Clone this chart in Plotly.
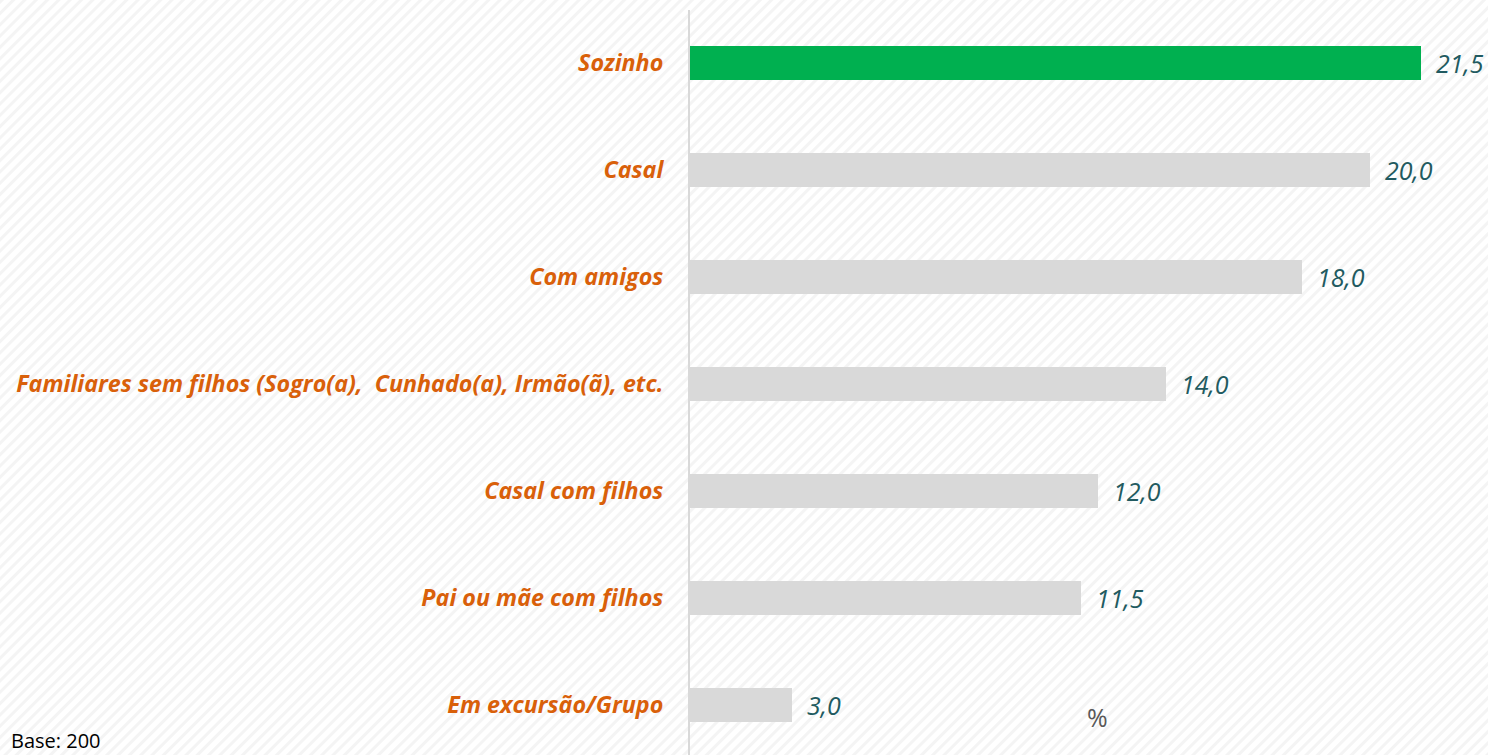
import base64
import plotly.graph_objects as go

categories = [
    "Sozinho",
    "Casal",
    "Com amigos",
    "Familiares sem filhos (Sogro(a),  Cunhado(a), Irmão(ã), etc.",
    "Casal com filhos",
    "Pai ou mãe com filhos",
    "Em excursão/Grupo",
]
values = [21.5, 20.0, 18.0, 14.0, 12.0, 11.5, 3.0]
value_labels = ["21,5", "20,0", "18,0", "14,0", "12,0", "11,5", "3,0"]
bar_colors = ["#00B050", "#D9D9D9", "#D9D9D9", "#D9D9D9", "#D9D9D9", "#D9D9D9", "#D9D9D9"]

W, H = 1488, 755
L, T = 690, 10
PW, PH = W - L, H - T
BOT = T + PH

fig = go.Figure()
fig.add_trace(go.Bar(
    y=categories, x=values, orientation="h",
    marker=dict(color=bar_colors, line=dict(width=0)),
    width=0.32, hoverinfo="skip",
))

for c, v, t in zip(categories, values, value_labels):
    fig.add_annotation(x=v, y=c, text=t, showarrow=False, xanchor="left",
                       xshift=13, yshift=0,
                       font=dict(family="Open Sans", size=25, color="#215A60", style="italic"))

# hatched background
svg = (
    f'<svg xmlns="http://www.w3.org/2000/svg" width="{W}" height="{H}" viewBox="0 0 {W} {H}">'
    '<defs><pattern id="p" width="8" height="8" patternUnits="userSpaceOnUse" patternTransform="rotate(45)">'
    '<rect width="8" height="8" fill="#ffffff"/><rect width="3" height="8" fill="#f4f4f4"/></pattern></defs>'
    f'<rect width="{W}" height="{H}" fill="url(#p)"/></svg>'
)
uri = "data:image/svg+xml;base64," + base64.b64encode(svg.encode()).decode()
fig.add_layout_image(dict(source=uri, xref="paper", yref="paper",
                          x=-L / PW, y=BOT / PH, sizex=W / PW, sizey=H / PH,
                          xanchor="left", yanchor="top", sizing="stretch", layer="below"))

fig.add_annotation(xref="paper", yref="paper", x=(1097 - L) / PW, y=(BOT - 717) / PH,
                   text="%", showarrow=False, xanchor="center", yanchor="middle",
                   font=dict(family="Open Sans", size=25, color="#595959"))
fig.add_annotation(xref="paper", yref="paper", x=-(L - 9) / PW, y=(BOT - 740) / PH,
                   text="Base: 200", showarrow=False, xanchor="left", yanchor="middle",
                   font=dict(family="Open Sans", size=20, color="#000000"))

fig.update_layout(
    width=W, height=H,
    margin=dict(l=L, r=0, t=T, b=H - BOT),
    paper_bgcolor="#ffffff", plot_bgcolor="rgba(0,0,0,0)",
    showlegend=False, bargap=0,
    xaxis=dict(range=[0, PW / 34.0], showgrid=False, zeroline=False,
               showticklabels=False, showline=False, fixedrange=True),
    yaxis=dict(range=[6.468, -0.495], showgrid=False, zeroline=False,
               showline=True, linecolor="#D9D9D9", linewidth=2,
               ticks="outside", ticklen=20, tickcolor="rgba(0,0,0,0)",
               tickfont=dict(family="Open Sans", size=23.3, color="#D9600A",
                             weight="bold", style="italic"),
               fixedrange=True),
)

fig.write_html(
    "out.html",
    config={"displayModeBar": False},
    post_script="document.body.style.margin='0';document.body.style.overflow='hidden';",
)
